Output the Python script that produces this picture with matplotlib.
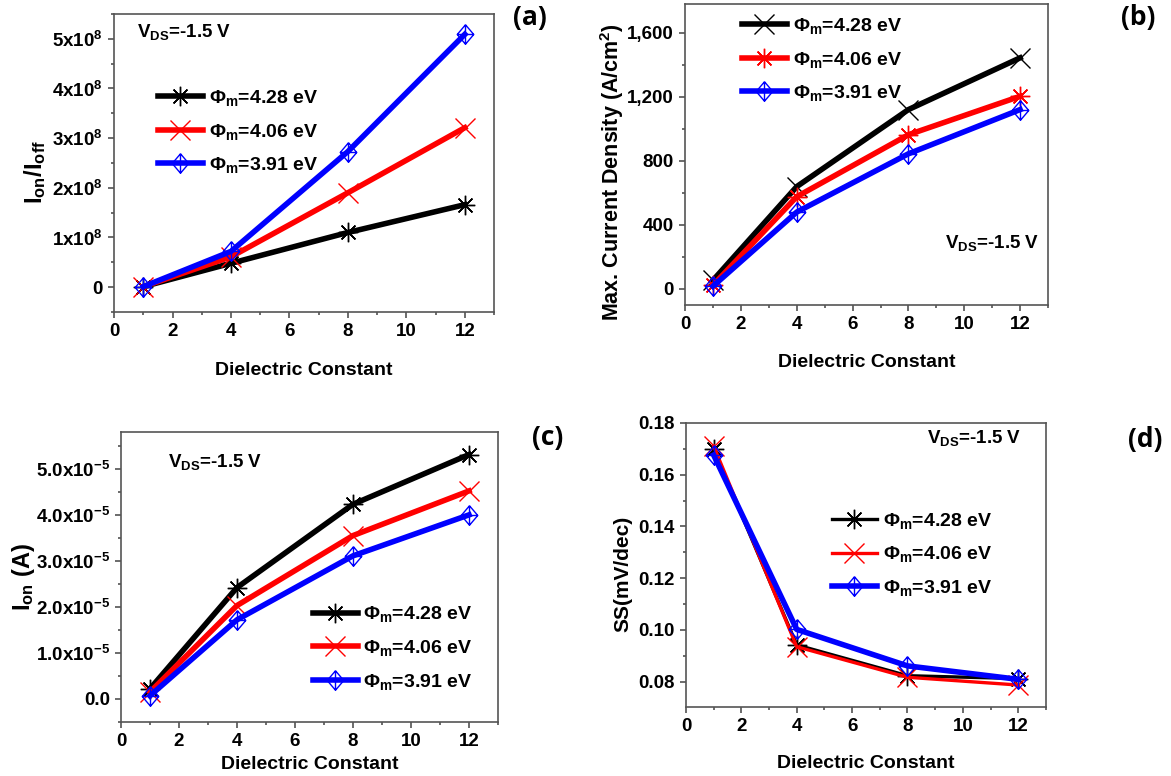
import matplotlib
matplotlib.use("Agg")
import matplotlib.pyplot as plt
from matplotlib.path import Path
from matplotlib.ticker import MultipleLocator

plt.rcParams["font.family"] = ["Liberation Sans", "DejaVu Sans"]
plt.rcParams["font.weight"] = "bold"
plt.rcParams["axes.labelweight"] = "bold"
plt.rcParams["mathtext.fontset"] = "custom"
plt.rcParams["mathtext.rm"] = "Liberation Sans:bold"
plt.rcParams["mathtext.it"] = "Liberation Sans:bold"
plt.rcParams["mathtext.bf"] = "Liberation Sans:bold"
plt.rcParams["mathtext.default"] = "rm"

# data
k = [1, 4, 8, 12]
labels = [r"$\Phi_m$=4.28 eV", r"$\Phi_m$=4.06 eV", r"$\Phi_m$=3.91 eV"]

ratio_428 = [0.01e8, 0.48e8, 1.10e8, 1.66e8]
ratio_406 = [0.01e8, 0.61e8, 1.90e8, 3.21e8]
ratio_391 = [0.01e8, 0.72e8, 2.73e8, 5.09e8]

jmax_428 = [54, 639, 1120, 1443]
jmax_406 = [23, 576, 963, 1203]
jmax_391 = [17, 480, 844, 1120]

ion_428 = [0.22e-5, 2.42e-5, 4.23e-5, 5.31e-5]
ion_406 = [0.15e-5, 2.03e-5, 3.55e-5, 4.52e-5]
ion_391 = [0.07e-5, 1.72e-5, 3.11e-5, 4.00e-5]

ss_428 = [0.1698, 0.0942, 0.0823, 0.0812]
ss_406 = [0.1711, 0.0935, 0.0817, 0.0787]
ss_391 = [0.1676, 0.1002, 0.0861, 0.0809]

ticks_a = [0, 1e8, 2e8, 3e8, 4e8, 5e8]
ticklabels_a = ["0", "1x10$^{8}$", "2x10$^{8}$", "3x10$^{8}$", "4x10$^{8}$", "5x10$^{8}$"]
ticks_b = [0, 400, 800, 1200, 1600]
ticklabels_b = ["0", "400", "800", "1,200", "1,600"]
ticks_c = [0, 1e-5, 2e-5, 3e-5, 4e-5, 5e-5]
ticklabels_c = ["0.0", "1.0x10$^{-5}$", "2.0x10$^{-5}$", "3.0x10$^{-5}$",
                "4.0x10$^{-5}$", "5.0x10$^{-5}$"]
ticks_d = [0.08, 0.10, 0.12, 0.14, 0.16, 0.18]
ticklabels_d = ["0.08", "0.10", "0.12", "0.14", "0.16", "0.18"]
xticks = [0, 2, 4, 6, 8, 10, 12]

# markers
diamond_cross = Path(
    [(0, 1), (0.85, 0), (0, -1), (-0.85, 0), (0, 1),
     (0, 1), (0, -1), (-0.85, 0), (0.85, 0)],
    [Path.MOVETO, Path.LINETO, Path.LINETO, Path.LINETO, Path.LINETO,
     Path.MOVETO, Path.LINETO, Path.MOVETO, Path.LINETO],
)
STAR = (8, 2, 0)
CROSS = "x"

fig = plt.figure(figsize=(11.71, 7.76), dpi=100)


def style_axis(ax, ylim, yticks, yticklabels, yminor):
    ax.set_xlim(0, 13)
    ax.set_ylim(*ylim)
    ax.set_xticks(xticks)
    ax.set_xticklabels([str(t) for t in xticks], fontweight="bold")
    ax.xaxis.set_minor_locator(MultipleLocator(1))
    ax.set_yticks(yticks)
    ax.set_yticklabels(yticklabels, fontweight="bold")
    ax.yaxis.set_minor_locator(MultipleLocator(yminor))
    ax.tick_params(which="both", direction="out", top=False, right=False,
                   labelsize=13.5, width=1.1, color="#444444")
    ax.tick_params(which="major", length=4.5)
    ax.tick_params(which="minor", length=2.5)
    for sp in ax.spines.values():
        sp.set_linewidth(1.2)
        sp.set_color("#555555")


def draw(ax, ys, markers, widths):
    colors = ["black", "red", "blue"]
    for y, m, c, lab, lw in zip(ys, markers, colors, labels, widths):
        ax.plot(k, y, color=c, lw=lw, marker=m, markersize=14,
                markerfacecolor="none", markeredgecolor=c,
                markeredgewidth=1.0, label=lab)


def add_legend(ax, x, y):
    ax.legend(loc="center left", bbox_to_anchor=(x, y), frameon=False,
              fontsize=14, handlelength=2.3, handletextpad=0.3,
              labelspacing=0.7, borderpad=0, borderaxespad=0)


# (a)
ax = fig.add_axes([0.0974, 0.598, 0.3245, 0.384])
draw(ax, [ratio_428, ratio_406, ratio_391], [STAR, CROSS, diamond_cross], [4, 4, 4])
style_axis(ax, (-0.5e8, 5.5e8), ticks_a, ticklabels_a, 0.5e8)
ax.set_xlabel("Dielectric Constant", fontsize=14, labelpad=16)
ax.set_ylabel("I$_{on}$/I$_{off}$", fontsize=17, labelpad=3)
ax.yaxis.label.set_y(0.47)
ax.text(0.06, 0.94, "V$_{DS}$=-1.5 V", transform=ax.transAxes, fontsize=13.5,
        va="center")
add_legend(ax, 0.116, 0.605)

# (b)
ax = fig.add_axes([0.585, 0.607, 0.310, 0.388])
draw(ax, [jmax_428, jmax_406, jmax_391], [CROSS, STAR, diamond_cross], [4, 4, 4])
style_axis(ax, (-100, 1780), ticks_b, ticklabels_b, 200)
ax.set_xlabel("Dielectric Constant", fontsize=14, labelpad=15)
ax.set_ylabel("Max. Current Density (A/cm$^{2}$)", fontsize=15.5, labelpad=1)
ax.yaxis.label.set_y(0.44)
ax.text(0.716, 0.206, "V$_{DS}$=-1.5 V", transform=ax.transAxes, fontsize=13.5,
        va="center")
add_legend(ax, 0.157, 0.815)

# (c)
ax = fig.add_axes([0.1033, 0.0696, 0.322, 0.3737])
draw(ax, [ion_428, ion_406, ion_391], [STAR, CROSS, diamond_cross], [4, 4, 4])
style_axis(ax, (-0.5e-5, 5.8e-5), ticks_c, ticklabels_c, 0.5e-5)
ax.set_xlabel("Dielectric Constant", fontsize=14, labelpad=4)
ax.set_ylabel("I$_{on}$ (A)", fontsize=17, labelpad=-1)
ax.text(0.125, 0.897, "V$_{DS}$=-1.5 V", transform=ax.transAxes, fontsize=13.5,
        va="center")
add_legend(ax, 0.509, 0.255)

# (d)
ax = fig.add_axes([0.5858, 0.0889, 0.3074, 0.366])
draw(ax, [ss_428, ss_406, ss_391], [STAR, CROSS, diamond_cross], [2.4, 2.4, 4])
style_axis(ax, (0.0702, 0.18), ticks_d, ticklabels_d, 0.01)
ax.set_xlabel("Dielectric Constant", fontsize=14, labelpad=14)
ax.set_ylabel("SS(mV/dec)", fontsize=15, labelpad=4)
ax.yaxis.label.set_y(0.47)
ax.text(0.669, 0.947, "V$_{DS}$=-1.5 V", transform=ax.transAxes, fontsize=13.5,
        va="center")
add_legend(ax, 0.406, 0.537)

# panel letters
for x, y, s in [(530, 18, "(a)"), (1138, 18, "(b)"), (548, 437, "(c)"), (1145, 440, "(d)")]:
    fig.text(x / 1171, 1 - y / 776, s, fontsize=19, fontweight="bold",
             family=["Open Sans", "DejaVu Sans"], ha="center", va="center")

fig.savefig("out.png", dpi=100)
